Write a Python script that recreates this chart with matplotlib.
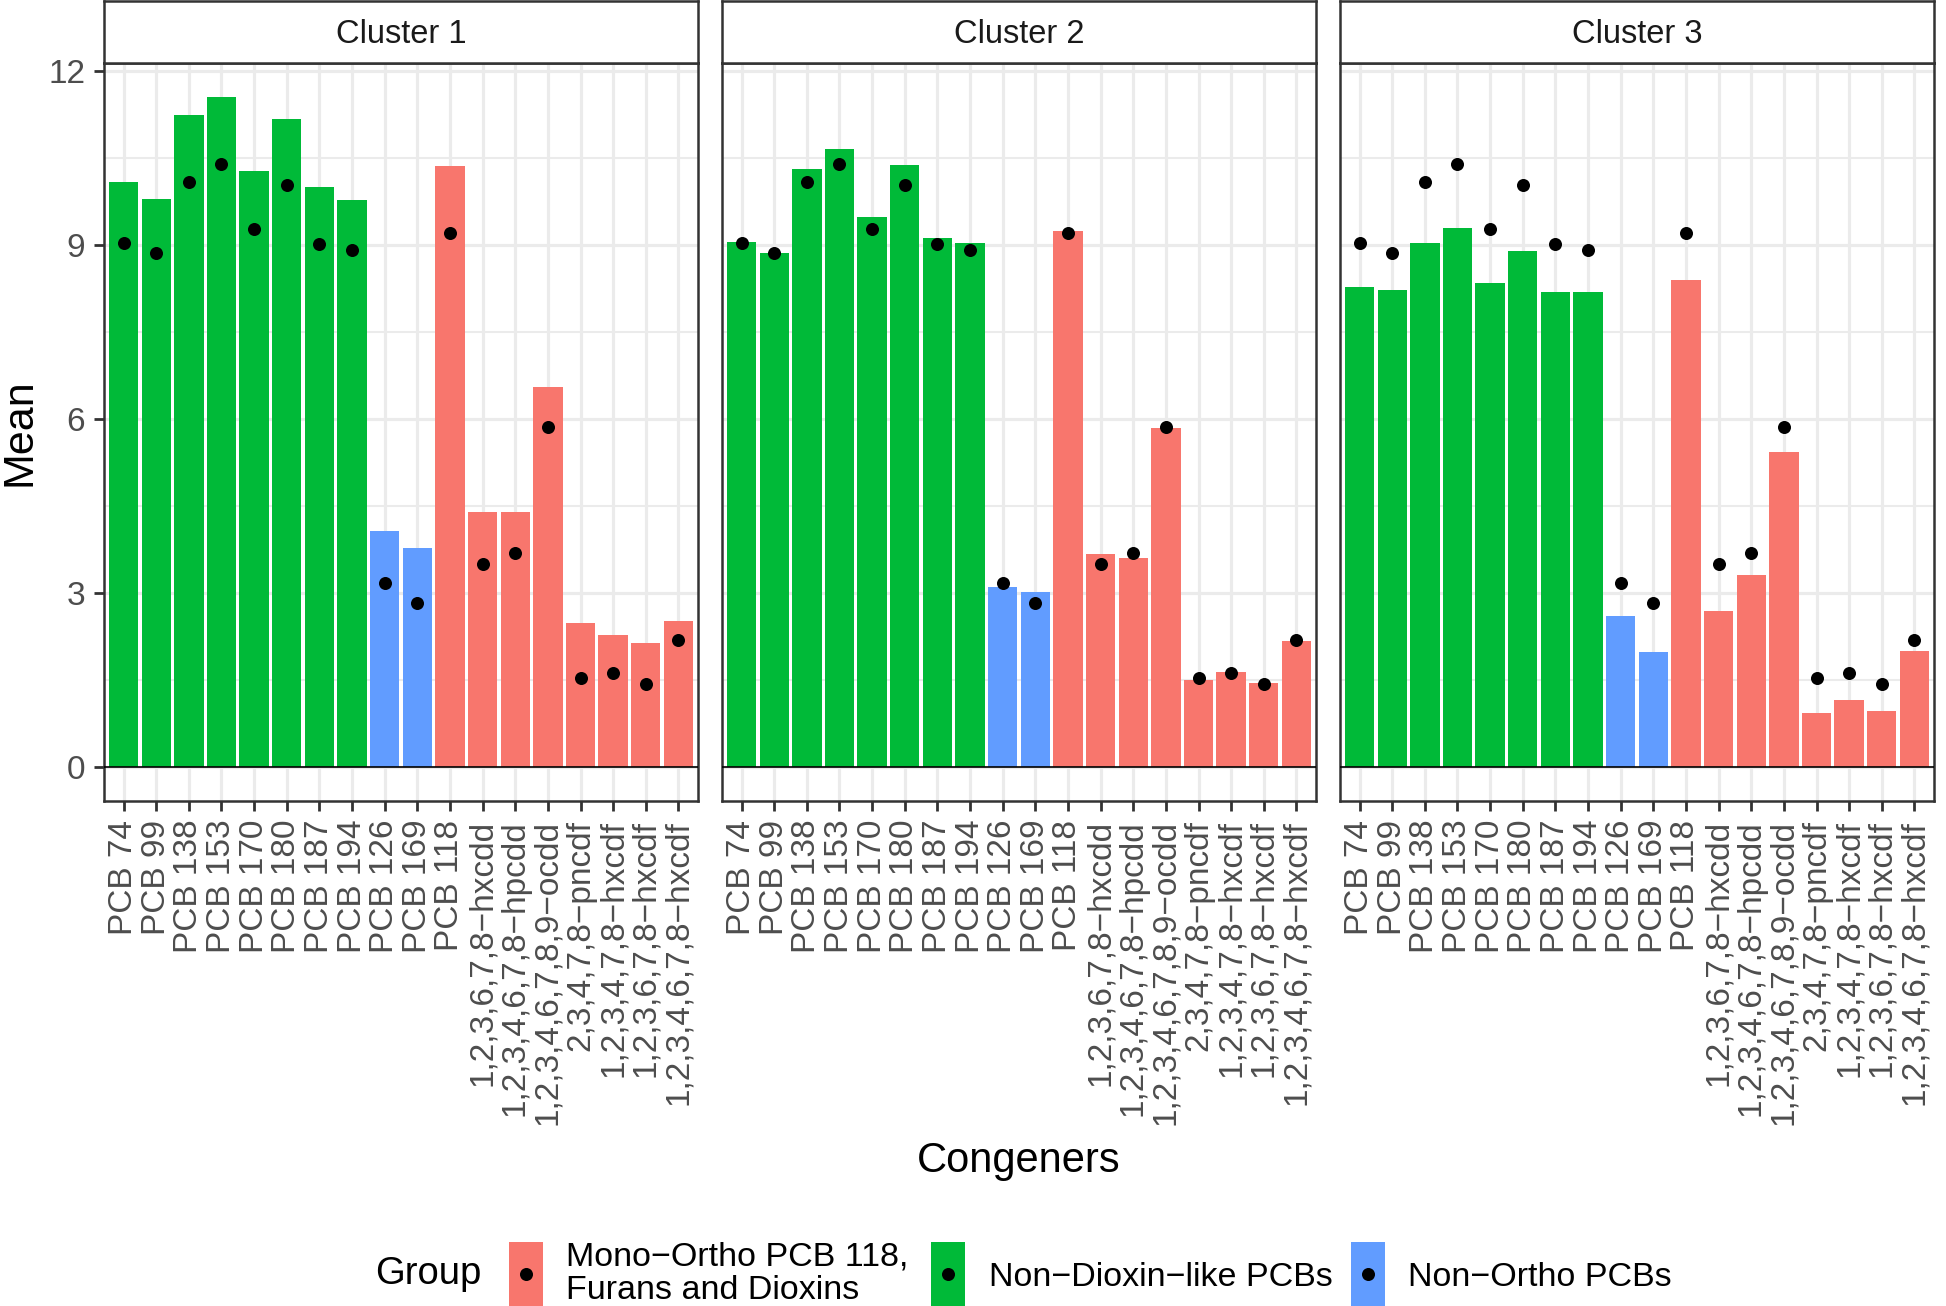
import numpy as np
import matplotlib.pyplot as plt
from matplotlib.patches import Rectangle

plt.rcParams['font.family'] = ['Liberation Sans', 'DejaVu Sans']

congeners = ["PCB 74", "PCB 99", "PCB 138", "PCB 153", "PCB 170", "PCB 180",
             "PCB 187", "PCB 194", "PCB 126", "PCB 169", "PCB 118",
             "1,2,3,6,7,8\u2212hxcdd", "1,2,3,4,6,7,8\u2212hpcdd",
             "1,2,3,4,6,7,8,9\u2212ocdd", "2,3,4,7,8\u2212pncdf",
             "1,2,3,4,7,8\u2212hxcdf", "1,2,3,6,7,8\u2212hxcdf",
             "1,2,3,4,6,7,8\u2212hxcdf"]
groups = ["ndl"] * 8 + ["no"] * 2 + ["mo"] * 8

# overall mean (black dots), same in every panel
overall = [9.04, 8.86, 10.08, 10.40, 9.27, 10.04, 9.02, 8.91, 3.17, 2.83,
           9.21, 3.50, 3.69, 5.86, 1.54, 1.63, 1.44, 2.20]

cluster_names = ["Cluster 1", "Cluster 2", "Cluster 3"]
cluster1 = [10.09, 9.79, 11.24, 11.56, 10.28, 11.17, 10.01, 9.77, 4.08, 3.78,
            10.37, 4.41, 4.40, 6.56, 2.49, 2.29, 2.14, 2.53]
cluster2 = [9.06, 8.86, 10.31, 10.66, 9.49, 10.38, 9.13, 9.04, 3.11, 3.02,
            9.24, 3.67, 3.61, 5.85, 1.51, 1.64, 1.45, 2.18]
cluster3 = [8.28, 8.23, 9.04, 9.30, 8.34, 8.90, 8.20, 8.19, 2.61, 1.99,
            8.40, 2.69, 3.32, 5.43, 0.94, 1.17, 0.98, 2.00]
clusters = [cluster1, cluster2, cluster3]

group_keys = ["mo", "ndl", "no"]
group_labels = ["Mono\u2212Ortho PCB 118,\nFurans and Dioxins",
                "Non\u2212Dioxin\u2212like PCBs", "Non\u2212Ortho PCBs"]
group_colors = {"mo": "#F8766D", "ndl": "#00BA38", "no": "#619CFF"}

W, H = 1946, 1306
fig = plt.figure(figsize=(W / 100, H / 100), dpi=100)


def px_axes(x0, y0, x1, y1):
    return fig.add_axes([x0 / W, 1 - y1 / H, (x1 - x0) / W, (y1 - y0) / H])


x = np.arange(1, len(congeners) + 1)
colors = [group_colors[g] for g in groups]
border = "#333333"

for i, vals in enumerate(clusters):
    left = 104 + i * 618
    right = left + 594
    ax = px_axes(left, 63, right, 801)
    ax.set_axisbelow(True)
    ax.bar(x, vals, width=0.9, color=colors, zorder=2)
    ax.axhline(0, color="black", lw=1.2, zorder=3)
    ax.scatter(x, overall, s=88, color="black", linewidths=0, zorder=4)
    ax.set_xlim(0.4, 18.6)
    ax.set_ylim(-0.578, 12.138)
    ax.set_xticks(x)
    ax.set_xticklabels(congeners, rotation=90, ha="center", va="top")
    ax.set_yticks([0, 3, 6, 9, 12])
    ax.set_yticks([1.5, 4.5, 7.5, 10.5], minor=True)
    ax.grid(which="major", color="#EBEBEB", lw=2.3)
    ax.grid(which="minor", axis="y", color="#EBEBEB", lw=1.5)
    ax.tick_params(which="major", length=7.5, width=2, color=border,
                   labelsize=24, labelcolor="#4D4D4D", pad=6)
    ax.tick_params(which="minor", length=0)
    if i > 0:
        ax.tick_params(axis="y", left=False, labelleft=False)
    for s in ax.spines.values():
        s.set_color(border)
        s.set_linewidth(1.8)

    strip = px_axes(left, 1, right, 63)
    strip.set_facecolor("white")
    strip.set_xticks([])
    strip.set_yticks([])
    for s in strip.spines.values():
        s.set_color(border)
        s.set_linewidth(1.8)
    strip.text(0.5, (63 - 43) / 62, cluster_names[i], ha="center",
               va="baseline", fontsize=23.5, color="#1A1A1A",
               transform=strip.transAxes)

# overlay in pixel coordinates for titles and legend
ov = fig.add_axes([0, 0, 1, 1], facecolor="none")
ov.set_xlim(0, W)
ov.set_ylim(H, 0)
ov.axis("off")

ov.text(0, 432, "Mean", rotation=90, ha="left", va="center", fontsize=31)
ov.text(1019, 1172, "Congeners", ha="center", va="baseline", fontsize=30)

ov.text(375, 1284, "Group", ha="left", va="baseline", fontsize=27.5)
key_x = [509, 931, 1351]
for k, g in enumerate(group_keys):
    ov.add_patch(Rectangle((key_x[k], 1242), 34, 64, color=group_colors[g],
                           lw=0))
ov.scatter([kx + 17 for kx in key_x], [1274] * 3, s=88, color="black",
           linewidths=0, zorder=3)

line1, line2 = group_labels[0].split("\n")
ov.text(566, 1265, line1, ha="left", va="baseline", fontsize=24.5)
ov.text(566, 1299, line2, ha="left", va="baseline", fontsize=24.5)
ov.text(989, 1286, group_labels[1], ha="left", va="baseline", fontsize=24.5)
ov.text(1408, 1286, group_labels[2], ha="left", va="baseline", fontsize=24.5)

fig.savefig("out.png", dpi=100)
